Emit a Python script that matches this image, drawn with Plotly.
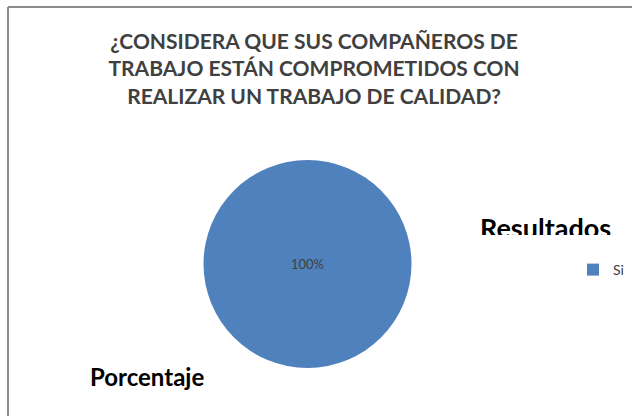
import plotly.graph_objects as go

# Survey answer shares
labels = ["Si"]
values = [100]

title_lines = [
    "¿CONSIDERA QUE SUS COMPAÑEROS DE",
    "TRABAJO ESTÁN COMPROMETIDOS CON",
    "REALIZAR UN TRABAJO DE CALIDAD?",
]
series_name = "Resultados"
axis_name = "Porcentaje"

W, H = 632, 416
CUT = 235  # lower edge of the band that holds the series name (px from top)

fig = go.Figure()

fig.add_trace(
    go.Pie(
        labels=labels,
        values=values,
        marker=dict(colors=["#4F81BD"], line=dict(width=0)),
        texttemplate="%{percent:.0%}",
        textposition="inside",
        insidetextfont=dict(family="Lato", size=13, color="#404040"),
        sort=False,
        direction="clockwise",
        hoverinfo="label+percent",
        domain=dict(x=[200 / W, 415 / W], y=[1 - 368 / H, 1 - 160 / H]),
    )
)

# Series name placed in a narrow band subplot so its lower part is clipped
fig.add_trace(
    go.Scatter(
        x=[480],
        y=[231],
        mode="text",
        text=[f"<b>{series_name}</b>"],
        textposition="middle right",
        textfont=dict(family="Lato", size=27, color="black"),
        cliponaxis=True,
        showlegend=False,
        hoverinfo="skip",
        xaxis="x",
        yaxis="y",
    )
)

fig.update_layout(
    width=W,
    height=H,
    margin=dict(l=0, r=0, t=0, b=0),
    paper_bgcolor="white",
    plot_bgcolor="rgba(0,0,0,0)",
    xaxis=dict(range=[0, W], domain=[0, 1], visible=False, fixedrange=True),
    yaxis=dict(range=[CUT, 0], domain=[1 - CUT / H, 1], visible=False, fixedrange=True),
    title=dict(
        text="<br>".join(title_lines),
        font=dict(family="Lato", size=21, color="#404040", weight="bold"),
        x=0.497,
        xanchor="center",
        y=1 - 49 / H,
        yanchor="top",
    ),
    showlegend=True,
    legend=dict(
        x=573 / W,
        y=1 - 270 / H,
        xanchor="left",
        yanchor="middle",
        font=dict(family="Lato", size=14, color="#404040"),
        itemwidth=30,
        bgcolor="rgba(0,0,0,0)",
    ),
    annotations=[
        dict(
            text=f"<b>{axis_name}</b>",
            x=88 / W,
            y=1 - 360 / H,
            xref="paper",
            yref="paper",
            xanchor="left",
            yanchor="top",
            showarrow=False,
            font=dict(family="Lato", size=24, color="black"),
        ),
    ],
    shapes=[
        # chart frame (top and left edges)
        dict(type="line", xref="paper", yref="paper",
             x0=8 / W, x1=1, y0=1 - 7 / H, y1=1 - 7 / H,
             line=dict(color="#8C8C8C", width=2)),
        dict(type="line", xref="paper", yref="paper",
             x0=8 / W, x1=8 / W, y0=0, y1=1 - 7 / H,
             line=dict(color="#8C8C8C", width=2)),
    ],
)

fig.write_html("out.html")
